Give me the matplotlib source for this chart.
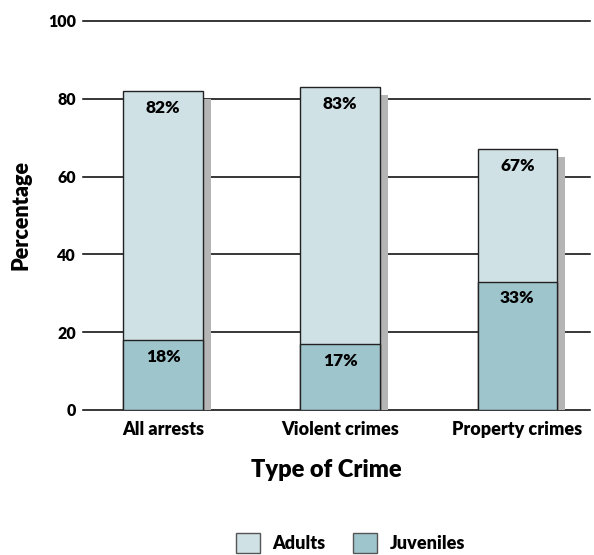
import numpy as np
import matplotlib.pyplot as plt
from matplotlib.patches import Patch

plt.rcParams['font.family'] = ['Lato', 'DejaVu Sans']
plt.rcParams['font.weight'] = 'heavy'

categories = ['All arrests', 'Violent crimes', 'Property crimes']
adults = [82, 83, 67]
juveniles = [18, 17, 33]
y_ticks = [0, 20, 40, 60, 80, 100]

adult_color = '#d0e1e5'
juv_color = '#9fc5cc'
shadow_color = '#b5b5b5'
W = 'heavy'

fig = plt.figure(figsize=(5.94, 5.55), dpi=100)
ax = fig.add_axes([0.1397, 0.2613, 0.8536, 0.7009])

x = np.arange(len(categories))
w = 0.45

# gridlines
for t in y_ticks:
    ax.axhline(t, color='black', lw=1.1, zorder=0, clip_on=False)

# shadows
for xi, a in zip(x, adults):
    ax.bar(xi + w / 2 + 0.023, a - 2, width=0.046, color=shadow_color, zorder=1)

ax.bar(x, adults, width=w, color=adult_color, edgecolor='#222222', lw=1, zorder=2)
ax.bar(x, juveniles, width=w, color=juv_color, edgecolor='#222222', lw=1, zorder=3)

for xi, a, j in zip(x, adults, juveniles):
    ax.text(xi, a - 4.3, f'{a}%', ha='center', va='center', fontsize=12.5, fontweight=W, zorder=4)
    ax.text(xi, j - 4.3, f'{j}%', ha='center', va='center', fontsize=12.5, fontweight=W, zorder=4)

ax.set_xlim(-0.452, 2.41)
ax.set_ylim(0, 100)
ax.set_yticks(y_ticks)
ax.set_yticklabels([str(t) for t in y_ticks], fontsize=11.5, fontweight=W)
ax.set_xticks(x)
ax.set_xticklabels(categories, fontsize=13, fontweight=W)
ax.tick_params(length=0, pad=5)
ax.tick_params(axis='x', pad=8)
for s in ax.spines.values():
    s.set_visible(False)

ax.set_ylabel('Percentage', fontsize=15.5, fontweight=W, labelpad=12)
ax.set_xlabel('Type of Crime', fontsize=17, fontweight=W)
ax.xaxis.set_label_coords(0.48, -0.125)

handles = [Patch(facecolor=adult_color, edgecolor='#555555', label='Adults'),
           Patch(facecolor=juv_color, edgecolor='#555555', label='Juveniles')]
fig.legend(handles=handles, loc='center', bbox_to_anchor=(0.59, 0.022), ncol=2,
           frameon=False, prop={'size': 13, 'weight': W},
           handlelength=1.35, handleheight=1.35, columnspacing=1.5, handletextpad=0.7)

fig.savefig('out.png', dpi=100)
